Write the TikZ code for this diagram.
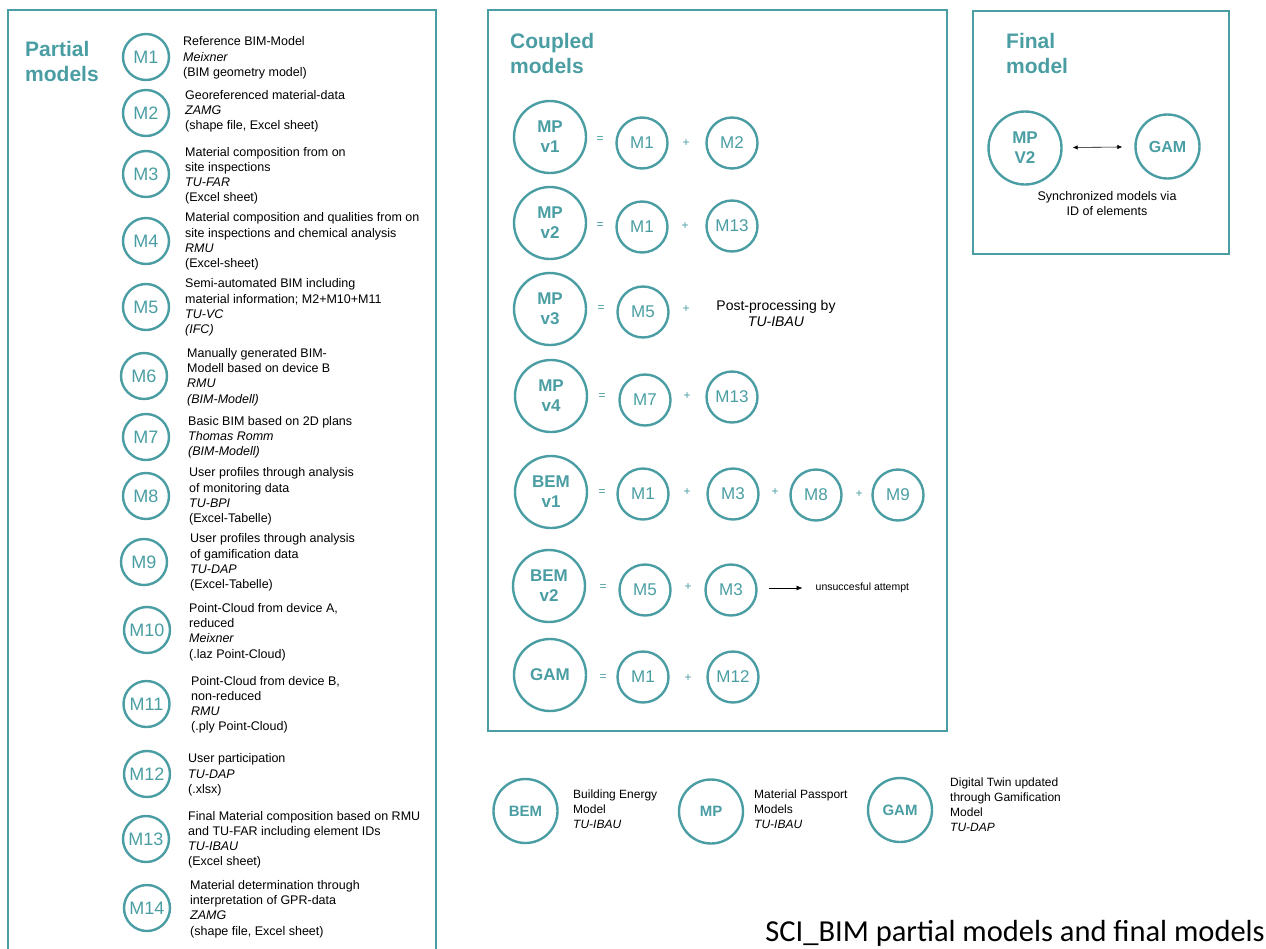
\documentclass[tikz,border=0pt]{standalone}
\usepackage{fontspec}
\setmainfont{Liberation Sans}
\newfontfamily\titlefont{Carlito}
\usetikzlibrary{arrows.meta}
\definecolor{teal}{RGB}{74,158,163}
% multi-line text nodes below are placed by the baseline of their last line
\tikzset{
  frame/.style={draw=teal, line width=2.4pt},
  heading/.style={anchor=base west, align=left, inner sep=0, text=teal,
    font=\fontsize{21}{25}\selectfont\bfseries},
  pm/.style={circle, draw=teal, line width=2.4pt, minimum size=46pt, inner sep=0,
    text=teal, font=\fontsize{18}{20}\selectfont},
  sm/.style={circle, draw=teal, line width=2.4pt, minimum size=51pt, inner sep=0,
    text=teal, font=\fontsize{17}{20}\selectfont},
  big/.style={circle, draw=teal, line width=2.4pt, minimum size=72pt, inner sep=0,
    text=teal, align=center, font=\fontsize{17}{20}\selectfont\bfseries},
  leg/.style={circle, draw=teal, line width=2.4pt, minimum size=64pt, inner sep=0,
    text=teal, font=\fontsize{15}{18}\selectfont\bfseries},
  desc/.style={anchor=base west, align=left, inner sep=0,
    font=\fontsize{12.5}{15.3}\selectfont},
  legdesc/.style={anchor=base west, align=left, inner sep=0,
    font=\fontsize{12}{15}\selectfont},
  op/.style={inner sep=0, text=teal, font=\fontsize{12}{14}\selectfont},
}
\begin{document}
\begin{tikzpicture}[x=1pt,y=-1pt]
\useasboundingbox (0,0) rectangle (1266,948);
\clip (0,0) rectangle (1266,948);

% ---------- frames ----------
\draw[frame] (8,10) rectangle (436,970);
\draw[frame] (488,10) rectangle (947,731);
\draw[frame] (973,11) rectangle (1229,254);

% ---------- partial models ----------
\node[heading] (hpart) at (25,81) {Partial\\models};

\node[pm] (m1) at (146,57) {M1};
\node[desc] (d1) at (183,76.3) {Reference BIM-Model\\\textit{Meixner}\\(BIM geometry model)};
\node[pm] (m2) at (146,113) {M2};
\node[desc] (d2) at (185,129.9) {Georeferenced material-data\\\textit{ZAMG}\\(shape file, Excel sheet)};
\node[pm] (m3) at (146,174) {M3};
\node[desc] (d3) at (185,201.9) {Material composition from on\\site inspections\\\textit{TU-FAR}\\(Excel sheet)};
\node[pm] (m4) at (146,241) {M4};
\node[desc] (d4) at (185,267.6) {Material composition and qualities from on\\site inspections and chemical analysis\\\textit{RMU}\\(Excel-sheet)};
\node[pm] (m5) at (146,307) {M5};
\node[desc] (d5) at (185,333.6) {Semi-automated BIM including\\material information; M2+M10+M11\\\textit{TU-VC}\\\textit{(IFC)}};
\node[pm] (m6) at (144,376) {M6};
\node[desc] (d6) at (187,403.2) {Manually generated BIM-\\Modell based on device B\\\textit{RMU}\\\textit{(BIM-Modell)}};
\node[pm] (m7) at (146,437) {M7};
\node[desc] (d7) at (188,455.6) {Basic BIM based on 2D plans\\\textit{Thomas Romm}\\\textit{(BIM-Modell)}};
\node[pm] (m8) at (146,496) {M8};
\node[desc] (d8) at (189,522.6) {User profiles through analysis\\of monitoring data\\\textit{TU-BPI}\\(Excel-Tabelle)};
\node[pm] (m9) at (144,562) {M9};
\node[desc] (d9) at (190,588.6) {User profiles through analysis\\of gamification data\\\textit{TU-DAP}\\(Excel-Tabelle)};
\node[pm] (m10) at (147,630) {M10};
\node[desc] (d10) at (189,658.2) {Point-Cloud from device A,\\reduced\\\textit{Meixner}\\(.laz Point-Cloud)};
\node[pm] (m11) at (146.5,704) {M11};
\node[desc] (d11) at (191,730.9) {Point-Cloud from device B,\\non-reduced\\\textit{RMU}\\(.ply Point-Cloud)};
\node[pm] (m12) at (147,774) {M12};
\node[desc] (d12) at (188,793.3) {User participation\\\textit{TU-DAP}\\(.xlsx)};
\node[pm] (m13) at (146,839) {M13};
\node[desc] (d13) at (188,865.9) {Final Material composition based on RMU\\and TU-FAR including element IDs\\\textit{TU-IBAU}\\(Excel sheet)};
\node[pm] (m14) at (147,908) {M14};
\node[desc] (d14) at (190,935.2) {Material determination through\\interpretation of GPR-data\\\textit{ZAMG}\\(shape file, Excel sheet)};

% ---------- coupled models ----------
\node[heading] (hcoup) at (510,73.3) {Coupled\\models};

% MP v1 = M1 + M2
\node[big] (mpa) at (550,137) {MP\\v1};
\node[op] (eqa) at (600,140) {=};
\node[sm] (mpa1) at (642,143) {M1};
\node[op] (pla) at (686,143) {+};
\node[sm] (mpa2) at (732,143) {M2};

% MP v2 = M1 + M13
\node[big] (mpb) at (550,223) {MP\\v2};
\node[op] (eqb) at (600,226) {=};
\node[sm] (mpb1) at (642,227) {M1};
\node[op] (plb) at (685,226) {+};
\node[sm] (mpb2) at (732,226) {M13};

% MP v3 = M5 + post-processing
\node[big] (mpc) at (550,309) {MP\\v3};
\node[op] (eqc) at (601,309) {=};
\node[sm] (mpc1) at (643,312) {M5};
\node[op] (plc) at (686,309) {+};
\node[anchor=base, align=center, inner sep=0, font=\fontsize{14}{16.7}\selectfont]
  (post) at (776,326.7) {Post-processing by\\\textit{TU-IBAU}};

% MP v4 = M7 + M13
\node[big] (mpd) at (551,396) {MP\\v4};
\node[op] (eqd) at (602,397) {=};
\node[sm] (mpd1) at (645,400) {M7};
\node[op] (pld) at (687,396) {+};
\node[sm] (mpd2) at (732,397) {M13};

% BEM v1 = M1 + M3 + M8 + M9
\node[big] (bema) at (551,492) {BEM\\v1};
\node[op] (eqe) at (602,493) {=};
\node[sm] (bema1) at (643,494) {M1};
\node[op] (ple) at (687,492) {+};
\node[sm] (bema2) at (733,494) {M3};
\node[op] (plf) at (775,492) {+};
\node[sm] (bema3) at (816,495) {M8};
\node[op] (plg) at (859,494) {+};
\node[sm] (bema4) at (898,495) {M9};

% BEM v2 = M5 + M3 -> unsuccessful
\node[big] (bemb) at (549,586) {BEM\\v2};
\node[op] (eqh) at (603,588) {=};
\node[sm] (bemb1) at (645,590) {M5};
\node[op] (plh) at (688,587) {+};
\node[sm] (bemb2) at (731,590) {M3};
\coordinate (ustart) at (769,588);
\node[anchor=west, inner sep=0, font=\fontsize{10.5}{12}\selectfont] (uns) at (815.5,588) {unsuccesful attempt};
\draw[-{Latex[length=6pt,width=5pt]}, line width=0.6pt, shorten >=13pt] (ustart) -- (uns.west);

% GAM = M1 + M12
\node[big] (gam) at (550,675) {GAM};
\node[op] (eqi) at (603,678) {=};
\node[sm] (gam1) at (643,677) {M1};
\node[op] (pli) at (688,678) {+};
\node[sm] (gam2) at (733,677) {M12};

% ---------- final model ----------
\node[heading] (hfin) at (1006,73.3) {Final\\model};
\node[big, minimum size=73pt] (fmp) at (1025,148) {MP\\V2};
\node[circle, draw=teal, line width=2.4pt, minimum size=64pt, inner sep=0, text=teal,
  font=\fontsize{16}{18}\selectfont\bfseries] (fgam) at (1167.5,146.5) {GAM};
\draw[{Latex[length=5pt,width=4.5pt]}-{Latex[length=5pt,width=4.5pt]}, line width=0.6pt,
  shorten <=10pt, shorten >=12pt] (fmp) -- (fgam);
\node[anchor=base, align=center, inner sep=0, font=\fontsize{12.5}{15}\selectfont]
  (sync) at (1107,215) {Synchronized models via\\ID of elements};

% ---------- legend ----------
\node[leg] (lbem) at (525.5,811) {BEM};
\node[legdesc] (tbem) at (573,828.3) {Building Energy\\Model\\\textit{TU-IBAU}};
\node[leg] (lmp) at (711,811.5) {MP};
\node[legdesc] (tmp) at (754,828.3) {Material Passport\\Models\\\textit{TU-IBAU}};
\node[leg] (lgam) at (900,810) {GAM};
\node[legdesc] (tgam) at (950,831) {Digital Twin updated\\through Gamification\\Model\\\textit{TU-DAP}};

% ---------- caption ----------
\node[anchor=base east, inner sep=0, font=\titlefont\fontsize{30.5}{33}\selectfont]
  (cap) at (1265,941.5) {SCI\_BIM partial models and final models};
\end{tikzpicture}
\end{document}
